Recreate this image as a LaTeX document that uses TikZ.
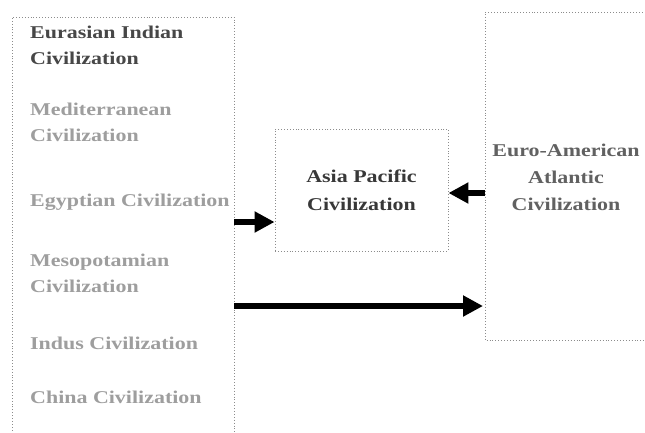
\documentclass[tikz,border=0pt]{standalone}
\usepackage{fontspec}
\setmainfont[FakeStretch=1.22]{Liberation Serif}
\usetikzlibrary{arrows.meta}
\begin{document}
\begin{tikzpicture}[x=1pt,y=-1pt,
  boxline/.style={draw=black!45, line width=0.9pt, dotted},
  civ/.style={anchor=west, font=\bfseries\fontsize{18}{26}\selectfont, text=black!38, align=left, inner sep=0pt},
  bigarrow/.style={line width=5.5pt, -{Triangle[length=20pt,width=20pt]}, black}
]
\useasboundingbox (0,0) rectangle (645,432);
\fill[white] (0,0) rectangle (645,432);
% left box (open at bottom)
\draw[boxline] (12,445) -- (12,17) -- (234,17) -- (234,445);
\coordinate (L1) at (234,222);
\coordinate (L2) at (234,306);
% asia pacific
\node[boxline, minimum width=173pt, minimum height=122pt, inner sep=0pt,
      font=\bfseries\fontsize{18}{28}\selectfont, text=black!78, align=center] (asia) at (361.5,190) {Asia Pacific\\Civilization};
% euro-american
\draw[boxline] (660,12) -- (485,12) -- (485,340) -- (660,340);
\coordinate (E1) at (485,193);
\coordinate (E2) at (483,306);
\node[font=\bfseries\fontsize{18}{27}\selectfont, text=black!62, align=center, inner sep=0pt] (euro) at (566,177) {Euro-American\\Atlantic\\Civilization};
% left texts
\node[civ, text=black!72] (t1) at (30,45.5) {Eurasian Indian\\Civilization};
\node[civ] (t2) at (30,122) {Mediterranean\\Civilization};
\node[civ] (t3) at (30,202) {Egyptian Civilization};
\node[civ] (t4) at (30,273.5) {Mesopotamian\\Civilization};
\node[civ] (t5) at (30,343) {Indus Civilization};
\node[civ] (t6) at (30,397) {China Civilization};
% arrows
\draw[bigarrow] (L1) -- (L1 -| asia.west);
\draw[bigarrow] (E1) -- (E1 -| asia.east);
\draw[bigarrow] (L2) -- (E2);
\end{tikzpicture}
\end{document}
